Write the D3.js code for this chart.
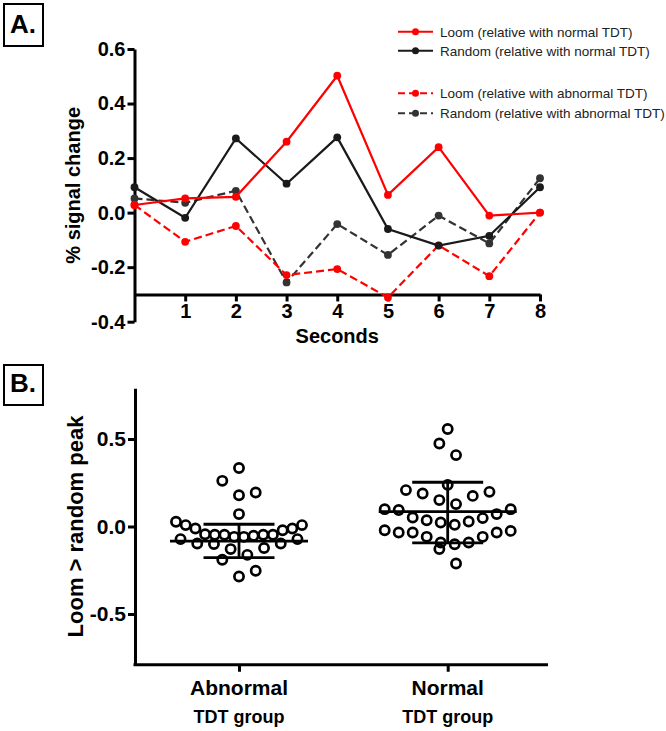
<!DOCTYPE html>
<html>
<head>
<meta charset="utf-8">
<script src="https://cdn.jsdelivr.net/npm/d3@7"></script>
<style>
  html, body { margin: 0; padding: 0; background: #fff; }
  svg { display: block; font-family: "Liberation Sans", Arial, Helvetica, sans-serif; }
</style>
</head>
<body>
<script>
// ---------------- DATA ----------------
// Panel A: % signal change by second
const seconds = [0, 1, 2, 3, 4, 5, 6, 7, 8];
const loomNormal     = [0.028, 0.052, 0.058, 0.260, 0.502, 0.065, 0.240, -0.011, 0.000];
const randomNormal   = [0.093, -0.019, 0.272, 0.106, 0.276, -0.060, -0.121, -0.085, 0.093];
const loomAbnormal   = [0.028, -0.107, -0.049, -0.229, -0.207, -0.311, -0.120, -0.233, 0.000];
const randomAbnormal = [0.052, 0.036, 0.080, -0.256, -0.042, -0.155, -0.011, -0.113, 0.126];
const seriesNames = [
  "Loom (relative with normal TDT)",
  "Random (relative with normal TDT)",
  "Loom (relative with abnormal TDT)",
  "Random (relative with abnormal TDT)"
];
const yTicksA = [-0.4, -0.2, 0.0, 0.2, 0.4, 0.6];
const yTickLabelsA = ["-0.4", "-0.2", "0.0", "0.2", "0.4", "0.6"];
const xTicksA = [1, 2, 3, 4, 5, 6, 7, 8];

// Panel B: Loom > random peak per subject
const groups = ["Abnormal", "Normal"];
const abnormalPeak = [0.334, 0.261, 0.194, 0.179, 0.071, 0.027, 0.008, 0.008, -0.011, -0.011,
  -0.021, -0.044, -0.047, -0.047, -0.047, -0.047, -0.053, -0.059, -0.059, -0.072,
  -0.072, -0.097, -0.097, -0.100, -0.123, -0.129, -0.162, -0.190, -0.253, -0.286];
const normalPeak = [0.557, 0.474, 0.408, 0.238, 0.208, 0.198, 0.189, 0.175, 0.151, 0.128,
  0.099, 0.099, 0.094, 0.071, 0.051, 0.048, 0.036, 0.029, 0.023, 0.010,
  -0.021, -0.025, -0.034, -0.034, -0.034, -0.059, -0.059, -0.091, -0.091, -0.101,
  -0.129, -0.211];
const groupMean = [-0.083, 0.085];
const groupSdLow = [-0.178, -0.093];
const groupSdHigh = [0.013, 0.253];
const yTicksB = [-0.5, 0.0, 0.5];
const yTickLabelsB = ["-0.5", "0.0", "0.5"];

// ---------------- CHART ----------------
const W = 666, H = 731;
const svg = d3.select("body").append("svg").attr("width", W).attr("height", H);

function panelLabel(x, y, w, h, txt) {
  svg.append("rect").attr("x", x).attr("y", y).attr("width", w).attr("height", h)
    .attr("fill", "#fff").attr("stroke", "#000").attr("stroke-width", 2);
  svg.append("text").attr("x", x + 6).attr("y", y + h - 13)
    .attr("font-size", 26).attr("font-weight", "bold").text(txt);
}
panelLabel(4, 4, 39, 42, "A.");
panelLabel(4, 365, 39, 40, "B.");

function styleAxis(g, fs) {
  g.selectAll("path.domain").attr("stroke", "#000").attr("stroke-width", 3);
  g.selectAll(".tick line").attr("stroke", "#000").attr("stroke-width", 3);
  g.selectAll(".tick text").attr("font-size", fs).attr("font-weight", "bold")
    .attr("fill", "#000").attr("font-family", "Liberation Sans, Arial, sans-serif");
}

// ---- Panel A ----
const xA = d3.scaleLinear().domain([0, 8]).range([134.5, 540]);
const yA = d3.scaleLinear().domain([-0.4, 0.6]).range([321.7, 49]);

const gyA = svg.append("g").attr("transform", `translate(${xA(0)},0)`)
  .call(d3.axisLeft(yA).tickValues(yTicksA).tickSize(7).tickSizeOuter(0).tickPadding(2)
    .tickFormat((d, i) => yTickLabelsA[i]));
styleAxis(gyA, 20);

const gxA = svg.append("g").attr("transform", `translate(0,${yA(-0.3)})`)
  .call(d3.axisBottom(xA).tickValues(xTicksA).tickSize(7).tickSizeOuter(0).tickPadding(2)
    .tickFormat(d3.format("d")));
styleAxis(gxA, 20);

svg.append("text").attr("transform", `translate(79.5,${(yA(-0.4) + yA(0.6)) / 2}) rotate(-90)`)
  .attr("text-anchor", "middle").attr("font-size", 20).attr("font-weight", "bold")
  .text("% signal change");
svg.append("text").attr("x", (xA(0) + xA(8)) / 2).attr("y", 343)
  .attr("text-anchor", "middle").attr("font-size", 20).attr("font-weight", "bold")
  .text("Seconds");

const seriesA = [
  { vals: randomAbnormal, color: "#333333", dash: "8,4" },
  { vals: loomAbnormal, color: "#ff0000", dash: "8,4" },
  { vals: randomNormal, color: "#1a1a1a", dash: null },
  { vals: loomNormal, color: "#ff0000", dash: null }
];
const lineA = d3.line().x((d, i) => xA(seconds[i])).y(d => yA(d));
seriesA.forEach(s => {
  const g = svg.append("g");
  g.append("path").attr("d", lineA(s.vals)).attr("fill", "none")
    .attr("stroke", s.color).attr("stroke-width", 2.2)
    .attr("stroke-dasharray", s.dash);
  g.selectAll("circle").data(s.vals).join("circle")
    .attr("cx", (d, i) => xA(seconds[i])).attr("cy", d => yA(d))
    .attr("r", 3.9).attr("fill", s.color);
});

// legend
const legendItems = [
  { name: seriesNames[0], color: "#ff0000", dash: null, y: 31.7 },
  { name: seriesNames[1], color: "#1a1a1a", dash: null, y: 50.7 },
  { name: seriesNames[2], color: "#ff0000", dash: "7,4", y: 93.3 },
  { name: seriesNames[3], color: "#333333", dash: "7,4", y: 113.3 }
];
const lg = svg.append("g");
legendItems.forEach(it => {
  lg.append("line").attr("x1", 398).attr("x2", 433).attr("y1", it.y).attr("y2", it.y)
    .attr("stroke", it.color).attr("stroke-width", 2).attr("stroke-dasharray", it.dash);
  lg.append("circle").attr("cx", 415.5).attr("cy", it.y).attr("r", 3.5).attr("fill", it.color);
  lg.append("text").attr("x", 440).attr("y", it.y).attr("dy", "0.36em")
    .attr("font-size", 13.5).attr("fill", "#222").text(it.name);
});

// ---- Panel B ----
const yB = d3.scaleLinear().domain([-0.79, 0.79]).range([526.5 + 0.79 * 175, 526.5 - 0.79 * 175]);
const xB = d3.scalePoint().domain(groups).range([239, 447.7]);
const axisLeftB = 135, axisRightB = 548;

const gyB = svg.append("g").attr("transform", `translate(${axisLeftB},0)`)
  .call(d3.axisLeft(yB).tickValues(yTicksB).tickSize(7).tickSizeOuter(0).tickPadding(2)
    .tickFormat((d, i) => yTickLabelsB[i]));
styleAxis(gyB, 21);

const gxB = svg.append("g").attr("transform", `translate(0,${yB(-0.79)})`)
  .call(d3.axisBottom(xB).tickSize(7).tickSizeOuter(0).tickFormat(""));
gxB.select("path.domain").remove();
gxB.append("line").attr("x1", axisLeftB - 1.5).attr("x2", axisRightB).attr("y1", 0).attr("y2", 0)
  .attr("stroke", "#000").attr("stroke-width", 3);
styleAxis(gxB, 21);

groups.forEach(gname => {
  svg.append("text").attr("x", xB(gname)).attr("y", 695).attr("text-anchor", "middle")
    .attr("font-size", 21).attr("font-weight", "bold").text(gname);
  svg.append("text").attr("x", xB(gname)).attr("y", 723).attr("text-anchor", "middle")
    .attr("font-size", 18).attr("font-weight", "bold").text("TDT group");
});

svg.append("text").attr("transform", `translate(82.5,${(yB(-0.79) + yB(0.79)) / 2}) rotate(-90)`)
  .attr("text-anchor", "middle").attr("font-size", 22).attr("font-weight", "bold")
  .text("Loom > random peak");

// Prism-style scatter layout: bin values (greedy from bottom), spread each bin horizontally
function scatterLayout(values, binH, maxStep, maxWidth) {
  const sorted = values.slice().sort((a, b) => a - b);
  const bins = [];
  let cur = null;
  sorted.forEach(v => {
    if (!cur || v - cur.start > binH) { cur = { start: v, vals: [] }; bins.push(cur); }
    cur.vals.push(v);
  });
  const out = [];
  bins.forEach(b => {
    const n = b.vals.length;
    const step = n > 1 ? Math.min(maxStep, maxWidth / (n - 1)) : 0;
    // slot order: nearest centre first, right before left
    const slots = d3.range(n).map(k => k - (n - 1) / 2)
      .sort((a, c) => Math.abs(a) - Math.abs(c) || c - a);
    b.vals.forEach((v, i) => out.push({ v, dx: slots[i] * step }));
  });
  return out;
}

const peakData = [abnormalPeak, normalPeak];
groups.forEach((gname, gi) => {
  const pts = scatterLayout(peakData[gi], 0.1, 16.7, 126);
  const cx = xB(gname);
  svg.append("g").selectAll("circle").data(pts).join("circle")
    .attr("cx", d => cx + d.dx).attr("cy", d => yB(d.v)).attr("r", 4.6)
    .attr("fill", "none").attr("stroke", "#000").attr("stroke-width", 2.7);

  const gs = svg.append("g").attr("stroke", "#000").attr("stroke-width", 2.8);
  gs.append("line").attr("x1", cx - 69).attr("x2", cx + 69)
    .attr("y1", yB(groupMean[gi])).attr("y2", yB(groupMean[gi]));
  gs.append("line").attr("x1", cx).attr("x2", cx)
    .attr("y1", yB(groupSdHigh[gi])).attr("y2", yB(groupSdLow[gi]));
  [groupSdHigh[gi], groupSdLow[gi]].forEach(v => {
    gs.append("line").attr("x1", cx - 35.5).attr("x2", cx + 35.5)
      .attr("y1", yB(v)).attr("y2", yB(v));
  });
});
</script>
</body>
</html>
